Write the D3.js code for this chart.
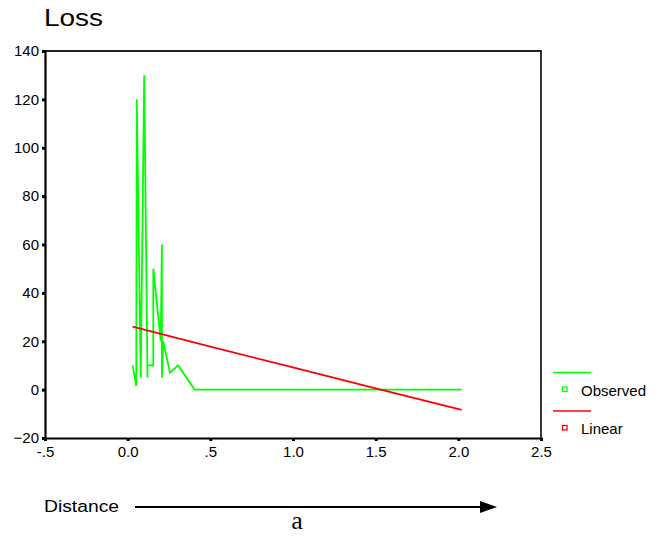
<!DOCTYPE html>
<html>
<head>
<meta charset="utf-8">
<script src="https://cdn.jsdelivr.net/npm/d3@7"></script>
<style>
  html, body { margin: 0; padding: 0; background: #fff; }
  svg { display: block; }
  text { font-family: "Liberation Sans", Arial, sans-serif; fill: #000; }
</style>
</head>
<body>
<svg id="chart" width="656" height="538"></svg>
<script>
// ---- data ----
const obsX = [0.03, 0.052, 0.055, 0.079, 0.10, 0.12, 0.12, 0.155, 0.155, 0.20, 0.207, 0.207, 0.215, 0.256, 0.305, 0.405,
              0.5, 0.6, 0.7, 0.8, 0.9, 1.0, 1.1, 1.2, 1.3, 1.4, 1.5, 1.6, 1.7, 1.8, 1.9, 2.02];
const obsY = [10, 1.5, 120, 5, 130, 5, 10, 10, 50, 20, 60, 5, 20, 7, 10, 0,
              0, 0, 0, 0, 0, 0, 0, 0, 0, 0, 0, 0, 0, 0, 0, 0];
const linX = [0.03, 0.5, 1.0, 1.5, 2.02];
const linY = [26.0, 17.8, 9.2, 0.5, -8.4];
const xTicks = [-0.5, 0, 0.5, 1.0, 1.5, 2.0, 2.5];
const xTickLabels = ["-.5", "0.0", ".5", "1.0", "1.5", "2.0", "2.5"];
const yTicks = [-20, 0, 20, 40, 60, 80, 100, 120, 140];
const seriesNames = ["Observed", "Linear"];
const seriesColors = ["#00ff00", "#ff0000"];

// ---- layout ----
const svg = d3.select("#chart");
const L = 45, R = 541, T = 51, B = 438;

const x = d3.scaleLinear().domain([-0.5, 2.5]).range([L, R]);
const y = d3.scaleLinear().domain([-20, 140]).range([B, T]);

// frame (top/right)
svg.append("path")
  .attr("d", `M${L},${T}H${R}V${B}`)
  .attr("fill", "none").attr("stroke", "#222").attr("stroke-width", 1.8);

// y axis
const yAxis = d3.axisLeft(y).tickValues(yTicks).tickSize(3).tickPadding(3).tickFormat(d3.format("d"));
const gy = svg.append("g").attr("transform", `translate(${L},0)`).call(yAxis);
gy.select(".domain").attr("stroke", "#000").attr("stroke-width", 2.2);
gy.selectAll(".tick line").attr("stroke", "#000").attr("stroke-width", 3);
gy.selectAll(".tick text").style("font-size", "15px").style("font-family", "'Liberation Sans', Arial, sans-serif");

// x axis
const xAxis = d3.axisBottom(x).tickValues(xTicks).tickSize(3).tickPadding(5)
  .tickFormat((d, i) => xTickLabels[i]);
const gx = svg.append("g").attr("transform", `translate(0,${B})`).call(xAxis);
gx.select(".domain").attr("stroke", "#000").attr("stroke-width", 2.2);
gx.selectAll(".tick line").attr("stroke", "#000").attr("stroke-width", 3);
gx.selectAll(".tick text").style("font-size", "15px").style("font-family", "'Liberation Sans', Arial, sans-serif");

// lines
const line = d3.line().x(d => x(d[0])).y(d => y(d[1]));
svg.append("path")
  .datum(obsX.map((v, i) => [v, obsY[i]]))
  .attr("d", line).attr("fill", "none")
  .attr("stroke", seriesColors[0]).attr("stroke-width", 1.8).attr("stroke-linejoin", "miter");
svg.append("path")
  .datum(linX.map((v, i) => [v, linY[i]]))
  .attr("d", line).attr("fill", "none")
  .attr("stroke", seriesColors[1]).attr("stroke-width", 1.8);

// title
svg.append("text").attr("x", 44).attr("y", 26).text("Loss")
  .style("font-size", "24px").attr("textLength", 59).attr("lengthAdjust", "spacingAndGlyphs");

// legend
const legTop = [372.5, 411];
seriesNames.forEach((name, i) => {
  const g = svg.append("g");
  g.append("line").attr("x1", 553).attr("x2", 591).attr("y1", legTop[i]).attr("y2", legTop[i])
    .attr("stroke", seriesColors[i]).attr("stroke-width", 1.5);
  g.append("rect").attr("x", 562.5).attr("y", legTop[i] + 14.5).attr("width", 4.5).attr("height", 4.5)
    .attr("fill", "#fff").attr("stroke", seriesColors[i]).attr("stroke-width", 1.3);
  g.append("text").attr("x", 581).attr("y", legTop[i] + 23).text(name).style("font-size", "15px");
});

// bottom: Distance arrow
svg.append("text").attr("x", 44).attr("y", 512).text("Distance")
  .style("font-size", "16px").attr("textLength", 75).attr("lengthAdjust", "spacingAndGlyphs");
svg.append("line").attr("x1", 135).attr("x2", 482).attr("y1", 507).attr("y2", 507)
  .attr("stroke", "#000").attr("stroke-width", 2);
svg.append("path").attr("d", "M480,501L497,507L480,513Z").attr("fill", "#000");
svg.append("text").attr("x", 297).attr("y", 529).attr("text-anchor", "middle")
  .text("a").style("font-size", "26px").style("font-family", "'Liberation Serif', 'Times New Roman', serif");
</script>
</body>
</html>
